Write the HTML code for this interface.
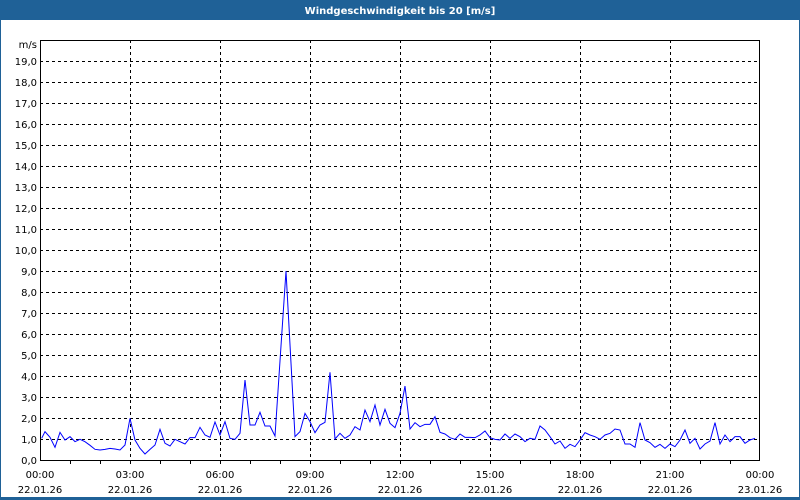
<!DOCTYPE html>
<html><head><meta charset="utf-8"><style>
html,body{margin:0;padding:0;background:#fff}
svg{display:block}
text{font-family:"DejaVu Sans","Liberation Sans",sans-serif;font-size:10px;fill:#000}
</style></head><body>
<svg width="800" height="500" viewBox="0 0 800 500" xmlns="http://www.w3.org/2000/svg">
<rect x="0" y="0" width="800" height="500" fill="#fff"/>
<rect x="0.5" y="0.5" width="799" height="499" fill="none" stroke="#1f6197" stroke-width="1"/>
<rect x="0" y="0" width="800" height="20" fill="#1f6197"/>
<rect x="0" y="497" width="800" height="3" fill="#1f6197"/>
<text x="400" y="14" text-anchor="middle" style="fill:#fff;font-weight:bold;font-size:10px">Windgeschwindigkeit bis 20 [m/s]</text>
<g stroke="#000" stroke-width="1" stroke-dasharray="3,3" shape-rendering="crispEdges">
<line x1="40" x2="760" y1="61.5" y2="61.5"/><line x1="40" x2="760" y1="82.5" y2="82.5"/><line x1="40" x2="760" y1="103.5" y2="103.5"/><line x1="40" x2="760" y1="124.5" y2="124.5"/><line x1="40" x2="760" y1="145.5" y2="145.5"/><line x1="40" x2="760" y1="166.5" y2="166.5"/><line x1="40" x2="760" y1="187.5" y2="187.5"/><line x1="40" x2="760" y1="208.5" y2="208.5"/><line x1="40" x2="760" y1="229.5" y2="229.5"/><line x1="40" x2="760" y1="250.5" y2="250.5"/><line x1="40" x2="760" y1="271.5" y2="271.5"/><line x1="40" x2="760" y1="292.5" y2="292.5"/><line x1="40" x2="760" y1="313.5" y2="313.5"/><line x1="40" x2="760" y1="334.5" y2="334.5"/><line x1="40" x2="760" y1="355.5" y2="355.5"/><line x1="40" x2="760" y1="376.5" y2="376.5"/><line x1="40" x2="760" y1="397.5" y2="397.5"/><line x1="40" x2="760" y1="418.5" y2="418.5"/><line x1="40" x2="760" y1="439.5" y2="439.5"/>
<line y1="40" y2="460" x1="130.5" x2="130.5"/><line y1="40" y2="460" x1="220.5" x2="220.5"/><line y1="40" y2="460" x1="310.5" x2="310.5"/><line y1="40" y2="460" x1="400.5" x2="400.5"/><line y1="40" y2="460" x1="490.5" x2="490.5"/><line y1="40" y2="460" x1="580.5" x2="580.5"/><line y1="40" y2="460" x1="670.5" x2="670.5"/>
</g>
<rect x="40.5" y="40.5" width="719" height="420" fill="none" stroke="#000" shape-rendering="crispEdges"/>
<g stroke="#000" shape-rendering="crispEdges">
<line x1="70.5" x2="70.5" y1="460" y2="464"/><line x1="100.5" x2="100.5" y1="460" y2="464"/><line x1="130.5" x2="130.5" y1="460" y2="464"/><line x1="160.5" x2="160.5" y1="460" y2="464"/><line x1="190.5" x2="190.5" y1="460" y2="464"/><line x1="220.5" x2="220.5" y1="460" y2="464"/><line x1="250.5" x2="250.5" y1="460" y2="464"/><line x1="280.5" x2="280.5" y1="460" y2="464"/><line x1="310.5" x2="310.5" y1="460" y2="464"/><line x1="340.5" x2="340.5" y1="460" y2="464"/><line x1="370.5" x2="370.5" y1="460" y2="464"/><line x1="400.5" x2="400.5" y1="460" y2="464"/><line x1="430.5" x2="430.5" y1="460" y2="464"/><line x1="460.5" x2="460.5" y1="460" y2="464"/><line x1="490.5" x2="490.5" y1="460" y2="464"/><line x1="520.5" x2="520.5" y1="460" y2="464"/><line x1="550.5" x2="550.5" y1="460" y2="464"/><line x1="580.5" x2="580.5" y1="460" y2="464"/><line x1="610.5" x2="610.5" y1="460" y2="464"/><line x1="640.5" x2="640.5" y1="460" y2="464"/><line x1="670.5" x2="670.5" y1="460" y2="464"/><line x1="700.5" x2="700.5" y1="460" y2="464"/><line x1="730.5" x2="730.5" y1="460" y2="464"/>
</g>
<g text-anchor="end">
<text x="37" y="48">m/s</text>
<text x="37" y="65">19,0</text><text x="37" y="86">18,0</text><text x="37" y="107">17,0</text><text x="37" y="128">16,0</text><text x="37" y="149">15,0</text><text x="37" y="170">14,0</text><text x="37" y="191">13,0</text><text x="37" y="212">12,0</text><text x="37" y="233">11,0</text><text x="37" y="254">10,0</text><text x="37" y="275">9,0</text><text x="37" y="296">8,0</text><text x="37" y="317">7,0</text><text x="37" y="338">6,0</text><text x="37" y="359">5,0</text><text x="37" y="380">4,0</text><text x="37" y="401">3,0</text><text x="37" y="422">2,0</text><text x="37" y="443">1,0</text><text x="37" y="464">0,0</text>
</g>
<g text-anchor="middle">
<text x="40" y="478">00:00</text><text x="40" y="493">22.01.26</text>
<text x="130" y="478">03:00</text><text x="130" y="493">22.01.26</text>
<text x="220" y="478">06:00</text><text x="220" y="493">22.01.26</text>
<text x="310" y="478">09:00</text><text x="310" y="493">22.01.26</text>
<text x="400" y="478">12:00</text><text x="400" y="493">22.01.26</text>
<text x="490" y="478">15:00</text><text x="490" y="493">22.01.26</text>
<text x="580" y="478">18:00</text><text x="580" y="493">22.01.26</text>
<text x="670" y="478">21:00</text><text x="670" y="493">22.01.26</text>
<text x="760" y="478">00:00</text><text x="760" y="493">23.01.26</text>
</g>
<g transform="translate(30,360) scale(0.33333)">
<polyline fill="none" stroke="#0000ff" stroke-width="1" vector-effect="non-scaling-stroke" points="35,235 45,215 60,232 75,262 90,217 105,240 120,230 135,245 150,238 165,245 180,256 195,268 210,270 225,268 240,265 255,267 270,270 285,255 300,175 315,240 330,265 345,282 360,268 375,255 390,208 405,250 420,258 435,238 450,245 465,252 480,233 495,233 510,202 525,225 540,232 555,186 570,225 585,185 600,235 615,238 630,220 645,60 660,195 675,195 690,157 705,198 720,198 735,228 768,-267 795,230 810,215 825,160 840,185 855,218 870,195 885,187 900,37 915,237 930,220 945,235 960,225 975,200 990,210 1005,150 1020,185 1035,135 1050,195 1065,148 1080,190 1095,203 1110,160 1125,78"/>
</g>
<g transform="translate(400,360) scale(0.33333)">
<polyline fill="none" stroke="#0000ff" stroke-width="1" vector-effect="non-scaling-stroke" points="15,78 30,207 45,188 60,200 75,193 90,193 105,170 120,217 135,222 150,233 165,238 180,222 195,232 210,232 225,233 240,225 255,213 270,233 285,238 300,240 315,222 330,235 345,222 360,230 375,245 390,235 405,238 420,198 435,210 450,230 465,252 480,243 495,265 510,253 525,260 540,240 555,218 570,225 585,230 600,238 615,225 630,220 645,207 660,210 675,252 690,252 705,262 720,188 735,240 750,248 765,262 780,253 795,265 810,252 825,260 840,240 855,210 870,250 885,235 900,267 915,252 930,243 945,188 960,252 975,225 990,245 1005,230 1020,230 1035,250 1050,240 1065,235"/>
</g>
</svg>
</body></html>
